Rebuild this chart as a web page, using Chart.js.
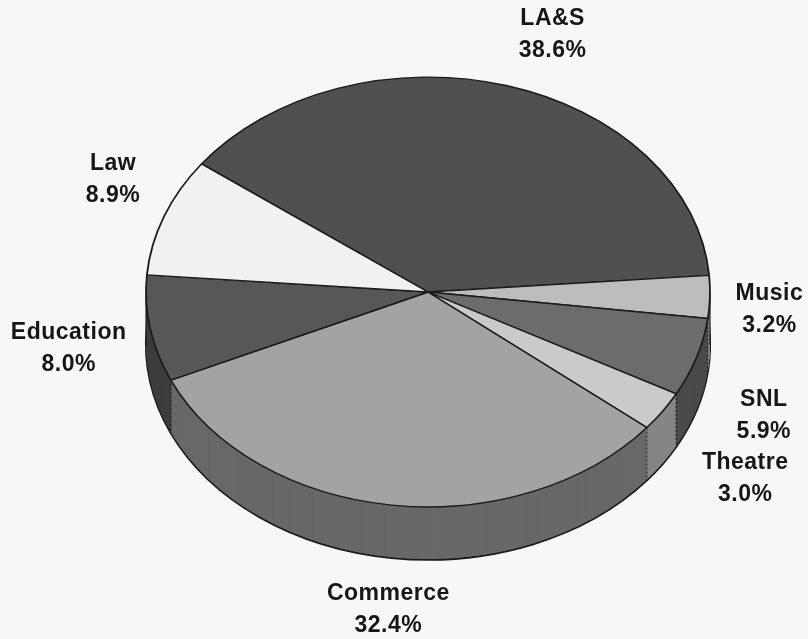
<!DOCTYPE html>
<html>
<head>
<meta charset="utf-8">
<script src="https://cdn.jsdelivr.net/npm/chart.js@4/dist/chart.umd.min.js"></script>
<style>
  body { margin: 0; background: #f7f7f5; }
  #wrap { width: 808px; height: 639px; position: relative; }
</style>
</head>
<body>
<div id="wrap"><canvas id="pieChart"></canvas></div>
<script>
// data, clockwise from the Law / LA&S boundary
const schools = ["LA&S", "Music", "SNL", "Theatre", "Commerce", "Education", "Law"];
const shares = [38.6, 3.2, 5.9, 3.0, 32.4, 8.0, 8.9];
const shareLabels = ["38.6%", "3.2%", "5.9%", "3.0%", "32.4%", "8.0%", "8.9%"];

// look
const topColors = ["#505050", "#bdbdbd", "#6c6c6c", "#cacaca", "#a3a3a3", "#575757", "#f1f1f0"];
const sideColors = ["#3a3a3a", "#8a8a8a", "#4a4a4a", "#858585", "#686868", "#3d3d3d", "#cfcfcf"];
const TILT = 0.762;   // vertical squash of the disc
const DEPTH = 53;     // height of the side wall in px
// small nudges for the label blocks (px), same order as schools
const labelNudge = [[27, 1], [-11, 11], [0, 42], [24, 38], [6, 51], [-12, 11], [15, -18]];

function tilt(ctx, cy) {
    ctx.translate(0, cy);
    ctx.scale(1, TILT);
    ctx.translate(0, -cy);
}

function drawArcWith(ctx, arc, opts) {
    let saved = arc.options;
    let o = Object.create(saved);
    Object.assign(o, opts);
    arc.options = o;
    arc.draw(ctx);
    arc.options = saved;
}

const pie3d = {
    id: "pie3d",
    beforeDatasetsDraw(chart) {
        let ctx = chart.ctx;
        let arcs = chart.getDatasetMeta(0).data;
        let cy = arcs[0].y;
        // side wall: stack of squashed discs, bottom first
        for (let d = DEPTH; d >= 1; d--) {
            ctx.save();
            ctx.translate(0, d);
            tilt(ctx, cy);
            arcs.forEach((arc, i) => {
                if (d === DEPTH) {
                    drawArcWith(ctx, arc, { backgroundColor: sideColors[i], borderColor: "#1b1b1b", borderWidth: 2.2 });
                } else {
                    drawArcWith(ctx, arc, { backgroundColor: sideColors[i], borderWidth: 0 });
                }
            });
            ctx.restore();
        }
        // edges of the wall
        ctx.save();
        ctx.strokeStyle = "#1b1b1b";
        ctx.lineWidth = 1.2;
        let a0 = arcs[0];
        let R = a0.outerRadius;
        [a0.x - R, a0.x + R].forEach(x => {
            ctx.beginPath();
            ctx.moveTo(x, cy);
            ctx.lineTo(x, cy + DEPTH);
            ctx.stroke();
        });
        ctx.lineWidth = 1;
        ctx.setLineDash([2, 2]);
        arcs.forEach(arc => {
            let s = Math.sin(arc.startAngle);
            if (s > 0) {
                let x = arc.x + R * Math.cos(arc.startAngle);
                let y = cy + TILT * R * s;
                ctx.beginPath();
                ctx.moveTo(x, y);
                ctx.lineTo(x, y + DEPTH);
                ctx.stroke();
            }
        });
        ctx.restore();
        // top face is drawn squashed by the library
        ctx.save();
        tilt(ctx, cy);
    },
    afterDatasetsDraw(chart) {
        chart.ctx.restore();
    },
    afterDraw(chart) {
        let ctx = chart.ctx;
        let arcs = chart.getDatasetMeta(0).data;
        ctx.save();
        ctx.fillStyle = "#161616";
        ctx.font = "bold 23px 'Liberation Sans', Arial, sans-serif";
        ctx.letterSpacing = "0.5px";
        ctx.textAlign = "center";
        ctx.textBaseline = "middle";
        arcs.forEach((arc, i) => {
            let mid = (arc.startAngle + arc.endAngle) / 2;
            let k = 1.25 * arc.outerRadius;
            let x = arc.x + k * Math.cos(mid) + labelNudge[i][0];
            let y = arc.y + TILT * k * Math.sin(mid) + labelNudge[i][1];
            ctx.fillText(schools[i], x, y - 16);
            ctx.fillText(shareLabels[i], x, y + 16);
        });
        ctx.restore();
    }
};

let ctxPie = document.getElementById("pieChart").getContext("2d");
window.pieChart = new Chart(ctxPie, {
    type: "pie",
    data: {
        labels: schools,
        datasets: [{
            data: shares,
            backgroundColor: topColors,
            borderColor: "#1b1b1b",
            borderWidth: 1.8,
            hoverOffset: 0,
            clip: false
        }]
    },
    options: {
        responsive: true,
        maintainAspectRatio: false,
        animation: false,
        rotation: -53.4,
        radius: 282,
        layout: { padding: { left: 146, right: 98, top: 10, bottom: 65 } },
        plugins: {
            legend: { display: false },
            tooltip: { enabled: false }
        },
        events: []
    },
    plugins: [pie3d]
});
</script>
</body>
</html>
